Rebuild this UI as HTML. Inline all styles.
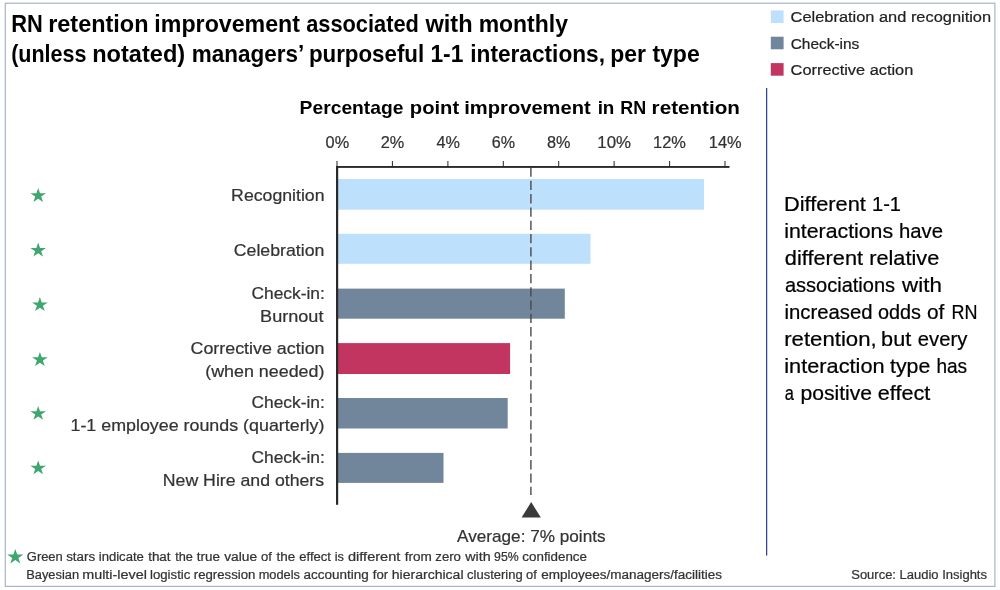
<!DOCTYPE html>
<html><head><meta charset="utf-8"><title>RN retention improvement</title>
<style>
html,body{margin:0;padding:0;background:#fff;}
svg{display:block;font-family:"Liberation Sans",sans-serif;}
</style></head><body>
<svg width="1000" height="590" viewBox="0 0 1000 590">
<rect x="0" y="0" width="1000" height="590" fill="#fff"/>
<rect x="5.3" y="3.2" width="989.6" height="583.2" fill="none" stroke="#A6B5C9" stroke-width="1.2"/>

<rect x="338" y="179" width="366" height="30.7" fill="#BDE0FC"/>
<rect x="338" y="233.8" width="252.5" height="30.0" fill="#BDE0FC"/>
<rect x="338" y="288.6" width="226.79999999999995" height="30.1" fill="#71859B"/>
<rect x="338" y="343.1" width="172.10000000000002" height="30.9" fill="#C23561"/>
<rect x="338" y="398.0" width="169.7" height="30.5" fill="#71859B"/>
<rect x="338" y="452.9" width="105.5" height="30.0" fill="#71859B"/>
<line x1="530.9" y1="167.5" x2="530.9" y2="495" stroke="#4a4a4a" stroke-width="1.4" stroke-dasharray="9.3 4"/>
<polygon points="531.2,502 540.8,517.6 521.6,517.6" fill="#3a3a3a"/>
<rect x="336" y="166" width="393.5" height="1.9" fill="#2a2a2a"/>
<rect x="336" y="166" width="2.2" height="338.8" fill="#2a2a2a"/>
<rect x="336.5" y="161" width="1" height="5.5" fill="#262626"/>
<rect x="391.9" y="161" width="1" height="5.5" fill="#262626"/>
<rect x="447.4" y="161" width="1" height="5.5" fill="#262626"/>
<rect x="502.8" y="161" width="1" height="5.5" fill="#262626"/>
<rect x="558.2" y="161" width="1" height="5.5" fill="#262626"/>
<rect x="613.6" y="161" width="1" height="5.5" fill="#262626"/>
<rect x="669.1" y="161" width="1" height="5.5" fill="#262626"/>
<rect x="724.5" y="161" width="1" height="5.5" fill="#262626"/>
<rect x="766" y="88" width="1.25" height="467.6" fill="#33439D"/>
<rect x="770.8" y="10.4" width="12.8" height="12.6" fill="#BDE0FC"/>
<rect x="770.8" y="36.7" width="12.8" height="12.6" fill="#71859B"/>
<rect x="770.8" y="63.1" width="12.8" height="12.6" fill="#C23561"/>
<polygon points="38.20,188.00 40.04,193.32 46.00,193.32 41.18,196.61 43.02,201.93 38.20,198.64 33.38,201.93 35.22,196.61 30.40,193.32 36.36,193.32" fill="#3FA66F"/>
<polygon points="38.20,242.60 40.04,247.92 46.00,247.92 41.18,251.21 43.02,256.53 38.20,253.24 33.38,256.53 35.22,251.21 30.40,247.92 36.36,247.92" fill="#3FA66F"/>
<polygon points="39.90,297.10 41.74,302.42 47.70,302.42 42.88,305.71 44.72,311.03 39.90,307.74 35.08,311.03 36.92,305.71 32.10,302.42 38.06,302.42" fill="#3FA66F"/>
<polygon points="39.90,352.00 41.74,357.32 47.70,357.32 42.88,360.61 44.72,365.93 39.90,362.64 35.08,365.93 36.92,360.61 32.10,357.32 38.06,357.32" fill="#3FA66F"/>
<polygon points="38.20,405.90 40.04,411.22 46.00,411.22 41.18,414.51 43.02,419.83 38.20,416.54 33.38,419.83 35.22,414.51 30.40,411.22 36.36,411.22" fill="#3FA66F"/>
<polygon points="38.20,460.40 40.04,465.72 46.00,465.72 41.18,469.01 43.02,474.33 38.20,471.04 33.38,474.33 35.22,469.01 30.40,465.72 36.36,465.72" fill="#3FA66F"/>
<polygon points="15.30,549.10 17.21,554.56 23.38,554.56 18.39,557.93 20.30,563.39 15.30,560.02 10.30,563.39 12.21,557.93 7.22,554.56 13.39,554.56" fill="#3FA66F"/>
<text id="t0" y="31.80" font-size="23.2" font-weight="bold" fill="#000"><tspan id="t0w0" x="11.18" textLength="31.56" lengthAdjust="spacingAndGlyphs">RN</tspan> <tspan id="t0w1" x="48.15" textLength="100.37" lengthAdjust="spacingAndGlyphs">retention</tspan> <tspan id="t0w2" x="154.39" textLength="145.64" lengthAdjust="spacingAndGlyphs">improvement</tspan> <tspan id="t0w3" x="306.16" textLength="112.70" lengthAdjust="spacingAndGlyphs">associated</tspan> <tspan id="t0w4" x="425.44" textLength="47.20" lengthAdjust="spacingAndGlyphs">with</tspan> <tspan id="t0w5" x="478.63" textLength="89.31" lengthAdjust="spacingAndGlyphs">monthly</tspan></text>
<text id="t1" y="62.20" font-size="23.2" font-weight="bold" fill="#000"><tspan id="t1w0" x="11.13" textLength="75.41" lengthAdjust="spacingAndGlyphs">(unless</tspan> <tspan id="t1w1" x="92.19" textLength="92.94" lengthAdjust="spacingAndGlyphs">notated)</tspan> <tspan id="t1w2" x="191.82" textLength="111.19" lengthAdjust="spacingAndGlyphs">managers’</tspan> <tspan id="t1w3" x="308.88" textLength="115.32" lengthAdjust="spacingAndGlyphs">purposeful</tspan> <tspan id="t1w4" x="430.45" textLength="32.95" lengthAdjust="spacingAndGlyphs">1-1</tspan> <tspan id="t1w5" x="470.24" textLength="134.79" lengthAdjust="spacingAndGlyphs">interactions,</tspan> <tspan id="t1w6" x="610.16" textLength="35.72" lengthAdjust="spacingAndGlyphs">per</tspan> <tspan id="t1w7" x="652.38" textLength="47.35" lengthAdjust="spacingAndGlyphs">type</tspan></text>
<text id="t2" y="114.00" font-size="19.0" font-weight="bold" fill="#000"><tspan id="t2w0" x="299.60" textLength="103.90" lengthAdjust="spacingAndGlyphs">Percentage</tspan> <tspan id="t2w1" x="409.87" textLength="49.33" lengthAdjust="spacingAndGlyphs">point</tspan> <tspan id="t2w2" x="464.24" textLength="126.47" lengthAdjust="spacingAndGlyphs">improvement</tspan> <tspan id="t2w3" x="597.64" textLength="16.72" lengthAdjust="spacingAndGlyphs">in</tspan> <tspan id="t2w4" x="620.25" textLength="25.88" lengthAdjust="spacingAndGlyphs">RN</tspan> <tspan id="t2w5" x="651.64" textLength="88.34" lengthAdjust="spacingAndGlyphs">retention</tspan></text>
<text id="t3" x="325.55" y="148.40" font-size="16.6" stroke="#333" stroke-width="0.22" fill="#333" textLength="23.62" lengthAdjust="spacingAndGlyphs">0%</text>
<text id="t4" x="380.74" y="148.40" font-size="16.6" stroke="#333" stroke-width="0.22" fill="#333" textLength="23.55" lengthAdjust="spacingAndGlyphs">2%</text>
<text id="t5" x="436.49" y="148.40" font-size="16.6" stroke="#333" stroke-width="0.22" fill="#333" textLength="23.44" lengthAdjust="spacingAndGlyphs">4%</text>
<text id="t6" x="491.74" y="148.40" font-size="16.6" stroke="#333" stroke-width="0.22" fill="#333" textLength="23.31" lengthAdjust="spacingAndGlyphs">6%</text>
<text id="t7" x="546.92" y="148.40" font-size="16.6" stroke="#333" stroke-width="0.22" fill="#333" textLength="23.50" lengthAdjust="spacingAndGlyphs">8%</text>
<text id="t8" x="597.26" y="148.40" font-size="16.6" stroke="#333" stroke-width="0.22" fill="#333" textLength="33.76" lengthAdjust="spacingAndGlyphs">10%</text>
<text id="t9" x="653.03" y="148.40" font-size="16.6" stroke="#333" stroke-width="0.22" fill="#333" textLength="32.90" lengthAdjust="spacingAndGlyphs">12%</text>
<text id="t10" x="708.84" y="148.40" font-size="16.6" stroke="#333" stroke-width="0.22" fill="#333" textLength="32.85" lengthAdjust="spacingAndGlyphs">14%</text>
<text id="t11" x="231.11" y="200.90" font-size="16.6" stroke="#333" stroke-width="0.22" fill="#333" textLength="93.38" lengthAdjust="spacingAndGlyphs">Recognition</text>
<text id="t12" x="233.79" y="255.60" font-size="16.6" stroke="#333" stroke-width="0.22" fill="#333" textLength="90.65" lengthAdjust="spacingAndGlyphs">Celebration</text>
<text id="t13" x="251.44" y="298.50" font-size="16.6" stroke="#333" stroke-width="0.22" fill="#333" textLength="73.35" lengthAdjust="spacingAndGlyphs">Check-in:</text>
<text id="t14" x="260.09" y="321.90" font-size="16.6" stroke="#333" stroke-width="0.22" fill="#333" textLength="63.37" lengthAdjust="spacingAndGlyphs">Burnout</text>
<text id="t15" x="190.54" y="353.60" font-size="16.6" stroke="#333" stroke-width="0.22" fill="#333" textLength="133.98" lengthAdjust="spacingAndGlyphs">Corrective action</text>
<text id="t16" x="205.20" y="376.90" font-size="16.6" stroke="#333" stroke-width="0.22" fill="#333" textLength="119.26" lengthAdjust="spacingAndGlyphs">(when needed)</text>
<text id="t17" x="251.44" y="407.90" font-size="16.6" stroke="#333" stroke-width="0.22" fill="#333" textLength="73.35" lengthAdjust="spacingAndGlyphs">Check-in:</text>
<text id="t18" x="70.49" y="431.40" font-size="16.6" stroke="#333" stroke-width="0.22" fill="#333" textLength="253.95" lengthAdjust="spacingAndGlyphs">1-1 employee rounds (quarterly)</text>
<text id="t19" x="251.44" y="463.00" font-size="16.6" stroke="#333" stroke-width="0.22" fill="#333" textLength="73.35" lengthAdjust="spacingAndGlyphs">Check-in:</text>
<text id="t20" x="162.80" y="485.80" font-size="16.6" stroke="#333" stroke-width="0.22" fill="#333" textLength="161.32" lengthAdjust="spacingAndGlyphs">New Hire and others</text>
<text id="t21" x="457.02" y="542.30" font-size="16.6" stroke="#333" stroke-width="0.22" fill="#333" textLength="148.55" lengthAdjust="spacingAndGlyphs">Average: 7% points</text>
<text id="t22" y="210.90" font-size="19.7" stroke="#000" stroke-width="0.22" fill="#000"><tspan id="t22w0" x="784.03" textLength="81.86" lengthAdjust="spacingAndGlyphs">Different</tspan> <tspan id="t22w1" x="872.05" textLength="28.99" lengthAdjust="spacingAndGlyphs">1-1</tspan></text>
<text id="t23" y="237.93" font-size="19.7" stroke="#000" stroke-width="0.22" fill="#000"><tspan id="t23w0" x="784.28" textLength="108.83" lengthAdjust="spacingAndGlyphs">interactions</tspan> <tspan id="t23w1" x="898.93" textLength="44.01" lengthAdjust="spacingAndGlyphs">have</tspan></text>
<text id="t24" y="264.96" font-size="19.7" stroke="#000" stroke-width="0.22" fill="#000"><tspan id="t24w0" x="784.89" textLength="78.19" lengthAdjust="spacingAndGlyphs">different</tspan> <tspan id="t24w1" x="869.26" textLength="69.98" lengthAdjust="spacingAndGlyphs">relative</tspan></text>
<text id="t25" y="291.99" font-size="19.7" stroke="#000" stroke-width="0.22" fill="#000"><tspan id="t25w0" x="784.90" textLength="110.22" lengthAdjust="spacingAndGlyphs">associations</tspan> <tspan id="t25w1" x="902.13" textLength="39.66" lengthAdjust="spacingAndGlyphs">with</tspan></text>
<text id="t26" y="319.02" font-size="19.7" stroke="#000" stroke-width="0.22" fill="#000"><tspan id="t26w0" x="784.45" textLength="88.11" lengthAdjust="spacingAndGlyphs">increased</tspan> <tspan id="t26w1" x="877.94" textLength="43.00" lengthAdjust="spacingAndGlyphs">odds</tspan> <tspan id="t26w2" x="926.90" textLength="17.38" lengthAdjust="spacingAndGlyphs">of</tspan> <tspan id="t26w3" x="951.52" textLength="25.99" lengthAdjust="spacingAndGlyphs">RN</tspan></text>
<text id="t27" y="346.05" font-size="19.7" stroke="#000" stroke-width="0.22" fill="#000"><tspan id="t27w0" x="784.24" textLength="92.40" lengthAdjust="spacingAndGlyphs">retention,</tspan> <tspan id="t27w1" x="881.11" textLength="30.13" lengthAdjust="spacingAndGlyphs">but</tspan> <tspan id="t27w2" x="917.89" textLength="49.44" lengthAdjust="spacingAndGlyphs">every</tspan></text>
<text id="t28" y="373.08" font-size="19.7" stroke="#000" stroke-width="0.22" fill="#000"><tspan id="t28w0" x="784.27" textLength="100.33" lengthAdjust="spacingAndGlyphs">interaction</tspan> <tspan id="t28w1" x="890.06" textLength="40.28" lengthAdjust="spacingAndGlyphs">type</tspan> <tspan id="t28w2" x="936.40" textLength="30.73" lengthAdjust="spacingAndGlyphs">has</tspan></text>
<text id="t29" y="400.11" font-size="19.7" stroke="#000" stroke-width="0.22" fill="#000"><tspan id="t29w0" x="784.82" textLength="9.13" lengthAdjust="spacingAndGlyphs">a</tspan> <tspan id="t29w1" x="800.54" textLength="71.59" lengthAdjust="spacingAndGlyphs">positive</tspan> <tspan id="t29w2" x="877.85" textLength="52.47" lengthAdjust="spacingAndGlyphs">effect</tspan></text>
<text id="t30" x="790.60" y="22.40" font-size="15.5" stroke="#222" stroke-width="0.22" fill="#222" textLength="200.51" lengthAdjust="spacingAndGlyphs">Celebration and recognition</text>
<text id="t31" x="790.64" y="48.90" font-size="15.5" stroke="#222" stroke-width="0.22" fill="#222" textLength="68.70" lengthAdjust="spacingAndGlyphs">Check-ins</text>
<text id="t32" x="790.60" y="75.10" font-size="15.5" stroke="#222" stroke-width="0.22" fill="#222" textLength="122.71" lengthAdjust="spacingAndGlyphs">Corrective action</text>
<text id="t33" y="561.30" font-size="12.3" stroke="#333" stroke-width="0.22" fill="#333"><tspan id="t33w0" x="26.84" textLength="35.93" lengthAdjust="spacingAndGlyphs">Green</tspan> <tspan id="t33w1" x="66.20" textLength="28.97" lengthAdjust="spacingAndGlyphs">stars</tspan> <tspan id="t33w2" x="98.73" textLength="45.17" lengthAdjust="spacingAndGlyphs">indicate</tspan> <tspan id="t33w3" x="148.16" textLength="22.43" lengthAdjust="spacingAndGlyphs">that</tspan> <tspan id="t33w4" x="175.16" textLength="17.71" lengthAdjust="spacingAndGlyphs">the</tspan> <tspan id="t33w5" x="196.82" textLength="23.20" lengthAdjust="spacingAndGlyphs">true</tspan> <tspan id="t33w6" x="224.22" textLength="33.01" lengthAdjust="spacingAndGlyphs">value</tspan> <tspan id="t33w7" x="260.98" textLength="10.91" lengthAdjust="spacingAndGlyphs">of</tspan> <tspan id="t33w8" x="276.60" textLength="18.70" lengthAdjust="spacingAndGlyphs">the</tspan> <tspan id="t33w9" x="299.25" textLength="31.71" lengthAdjust="spacingAndGlyphs">effect</tspan> <tspan id="t33w10" x="334.77" textLength="9.23" lengthAdjust="spacingAndGlyphs">is</tspan> <tspan id="t33w11" x="348.04" textLength="52.29" lengthAdjust="spacingAndGlyphs">different</tspan> <tspan id="t33w12" x="404.81" textLength="27.10" lengthAdjust="spacingAndGlyphs">from</tspan> <tspan id="t33w13" x="435.34" textLength="25.61" lengthAdjust="spacingAndGlyphs">zero</tspan> <tspan id="t33w14" x="465.31" textLength="25.43" lengthAdjust="spacingAndGlyphs">with</tspan> <tspan id="t33w15" x="494.07" textLength="24.55" lengthAdjust="spacingAndGlyphs">95%</tspan> <tspan id="t33w16" x="522.38" textLength="64.58" lengthAdjust="spacingAndGlyphs">confidence</tspan></text>
<text id="t34" y="578.80" font-size="12.3" stroke="#333" stroke-width="0.22" fill="#333"><tspan id="t34w0" x="26.24" textLength="52.81" lengthAdjust="spacingAndGlyphs">Bayesian</tspan> <tspan id="t34w1" x="82.23" textLength="64.70" lengthAdjust="spacingAndGlyphs">multi-level</tspan> <tspan id="t34w2" x="150.01" textLength="40.33" lengthAdjust="spacingAndGlyphs">logistic</tspan> <tspan id="t34w3" x="193.80" textLength="61.57" lengthAdjust="spacingAndGlyphs">regression</tspan> <tspan id="t34w4" x="258.69" textLength="41.28" lengthAdjust="spacingAndGlyphs">models</tspan> <tspan id="t34w5" x="303.62" textLength="65.12" lengthAdjust="spacingAndGlyphs">accounting</tspan> <tspan id="t34w6" x="372.87" textLength="15.33" lengthAdjust="spacingAndGlyphs">for</tspan> <tspan id="t34w7" x="391.76" textLength="71.82" lengthAdjust="spacingAndGlyphs">hierarchical</tspan> <tspan id="t34w8" x="467.09" textLength="55.58" lengthAdjust="spacingAndGlyphs">clustering</tspan> <tspan id="t34w9" x="525.99" textLength="10.79" lengthAdjust="spacingAndGlyphs">of</tspan> <tspan id="t34w10" x="541.16" textLength="180.87" lengthAdjust="spacingAndGlyphs">employees/managers/facilities</tspan></text>
<text id="t35" x="851.23" y="578.80" font-size="12.3" stroke="#333" stroke-width="0.22" fill="#333" textLength="135.75" lengthAdjust="spacingAndGlyphs">Source: Laudio Insights</text>
</svg>
</body></html>
